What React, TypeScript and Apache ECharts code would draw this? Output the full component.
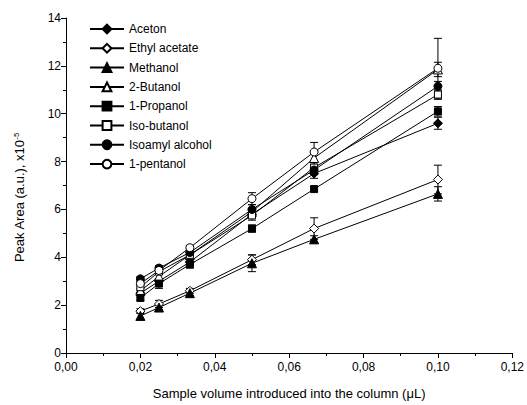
import React, { useEffect, useRef } from "react";
import * as echarts from "echarts";

const xValues = [0.02, 0.025, 0.0333, 0.05, 0.0667, 0.1];

const seriesNames = [
  "Aceton",
  "Ethyl acetate",
  "Methanol",
  "2-Butanol",
  "1-Propanol",
  "Iso-butanol",
  "Isoamyl alcohol",
  "1-pentanol",
];

const acetonY = [2.5, 3.0, 3.8, 5.8, 7.5, 9.6];
const ethylAcetateY = [1.75, 2.05, 2.6, 3.9, 5.2, 7.25];
const methanolY = [1.55, 1.9, 2.5, 3.75, 4.75, 6.65];
const butanol2Y = [2.6, 3.2, 4.1, 5.9, 8.15, 11.85];
const propanolY = [2.3, 2.9, 3.7, 5.2, 6.85, 10.1];
const isoButanolY = [2.75, 3.4, 4.1, 5.75, 7.75, 10.8];
const isoamylY = [3.1, 3.55, 4.2, 6.0, 7.65, 11.15];
const pentanolY = [2.9, 3.45, 4.4, 6.45, 8.4, 11.9];

const acetonErr = [0.1, 0.1, 0.1, 0.15, 0.2, 0.25];
const ethylAcetateErr = [0.1, 0.15, 0.1, 0.2, 0.45, 0.6];
const methanolErr = [0.15, 0.1, 0.1, 0.35, 0.15, 0.3];
const butanol2Err = [0.1, 0.15, 0.1, 0.15, 0.3, 0.3];
const propanolErr = [0.1, 0.2, 0.15, 0.15, 0.1, 0.2];
const isoButanolErr = [0.15, 0.1, 0.1, 0.2, 0.2, 0.2];
const isoamylErr = [0.1, 0.1, 0.1, 0.2, 0.2, 0.2];
const pentanolErr = [0.1, 0.1, 0.1, 0.25, 0.4, 1.25];

const yTable = [acetonY, ethylAcetateY, methanolY, butanol2Y, propanolY, isoButanolY, isoamylY, pentanolY];
const errTable = [acetonErr, ethylAcetateErr, methanolErr, butanol2Err, propanolErr, isoButanolErr, isoamylErr, pentanolErr];
const symbols = ["diamond", "diamond", "triangle", "triangle", "rect", "rect", "circle", "circle"];
const filled = [true, false, true, false, true, false, true, false];
const symbolSizes = [9, 9, 9, 9, 7, 7, 8, 8];

const FONT = "Liberation Sans, Arial, sans-serif";

export default function App() {
  const ref = useRef<HTMLDivElement>(null);

  useEffect(() => {
    if (!ref.current) return;
    document.body.style.margin = "0";
    document.body.style.overflow = "hidden";
    const chart = echarts.init(ref.current, undefined, { renderer: "svg" });

    const errSeries = seriesNames.map((name, i) => ({
      name: "err-" + name,
      type: "custom",
      z: 1,
      silent: true,
      renderItem: (params: any, api: any) => {
        const x = api.value(0);
        const y = api.value(1);
        const e = api.value(2);
        const top = api.coord([x, y + e]);
        const bot = api.coord([x, y - e]);
        const cw = 4;
        const style = { stroke: "#000", lineWidth: 1 };
        return {
          type: "group",
          children: [
            { type: "line", shape: { x1: top[0], y1: top[1], x2: bot[0], y2: bot[1] }, style },
            { type: "line", shape: { x1: top[0] - cw, y1: top[1], x2: top[0] + cw, y2: top[1] }, style },
            { type: "line", shape: { x1: bot[0] - cw, y1: bot[1], x2: bot[0] + cw, y2: bot[1] }, style },
          ],
        };
      },
      data: xValues.map((x, j) => [x, yTable[i][j], errTable[i][j]]),
    }));

    const lineSeries = seriesNames.map((name, i) => ({
      name,
      type: "line",
      z: 3,
      symbol: symbols[i],
      symbolSize: symbolSizes[i],
      showAllSymbol: true,
      lineStyle: { color: "#000", width: 1 },
      itemStyle: {
        color: filled[i] ? "#000" : "#fff",
        borderColor: "#000",
        borderWidth: 1,
      },
      data: xValues.map((x, j) => [x, yTable[i][j]]),
    }));

    chart.setOption({
      animation: false,
      backgroundColor: "#fff",
      textStyle: { fontFamily: FONT },
      grid: { left: 66, right: 14, top: 18, bottom: 52, containLabel: false },
      legend: {
        data: seriesNames,
        orient: "vertical",
        left: 89,
        top: 23,
        padding: 0,
        itemWidth: 34,
        itemHeight: 11,
        itemGap: 7.3,
        textStyle: { fontSize: 12, color: "#000", fontFamily: FONT },
        selectedMode: false,
      },
      xAxis: {
        type: "value",
        min: 0,
        max: 0.12,
        interval: 0.02,
        name: "Sample volume introduced into the column (\u03BCL)",
        nameLocation: "middle",
        nameGap: 34,
        nameTextStyle: { fontSize: 13, color: "#000", fontFamily: FONT },
        axisLine: { show: true, onZero: false, lineStyle: { color: "#000", width: 1 } },
        axisTick: { show: true, inside: false, length: 5, lineStyle: { color: "#000" } },
        minorTick: { show: true, splitNumber: 2, length: 3, lineStyle: { color: "#000" } },
        splitLine: { show: false },
        axisLabel: {
          fontSize: 12,
          color: "#000",
          margin: 8,
          fontFamily: FONT,
          showMaxLabel: true,
          formatter: (v: number) => v.toFixed(2).replace(".", ","),
        },
      },
      yAxis: {
        type: "value",
        min: 0,
        max: 14,
        interval: 2,
        name: "Peak Area (a.u.), x10{sup|-5}",
        nameLocation: "middle",
        nameGap: 40,
        nameRotate: 90,
        nameTextStyle: {
          fontSize: 13,
          color: "#000",
          fontFamily: FONT,
          padding: [0, 24, 0, 0],
          rich: { sup: { fontSize: 8, verticalAlign: "top", color: "#000", fontFamily: FONT, padding: [0, 0, 6, 0] } },
        },
        axisLine: { show: true, onZero: false, lineStyle: { color: "#000", width: 1 } },
        axisTick: { show: true, inside: false, length: 5, lineStyle: { color: "#000" } },
        minorTick: { show: true, splitNumber: 2, length: 3, lineStyle: { color: "#000" } },
        splitLine: { show: false },
        axisLabel: { fontSize: 12, color: "#000", margin: 5, fontFamily: FONT },
      },
      series: [...errSeries, ...lineSeries],
    });

    return () => chart.dispose();
  }, []);

  return <div ref={ref} style={{ width: 527, height: 405 }} />;
}
